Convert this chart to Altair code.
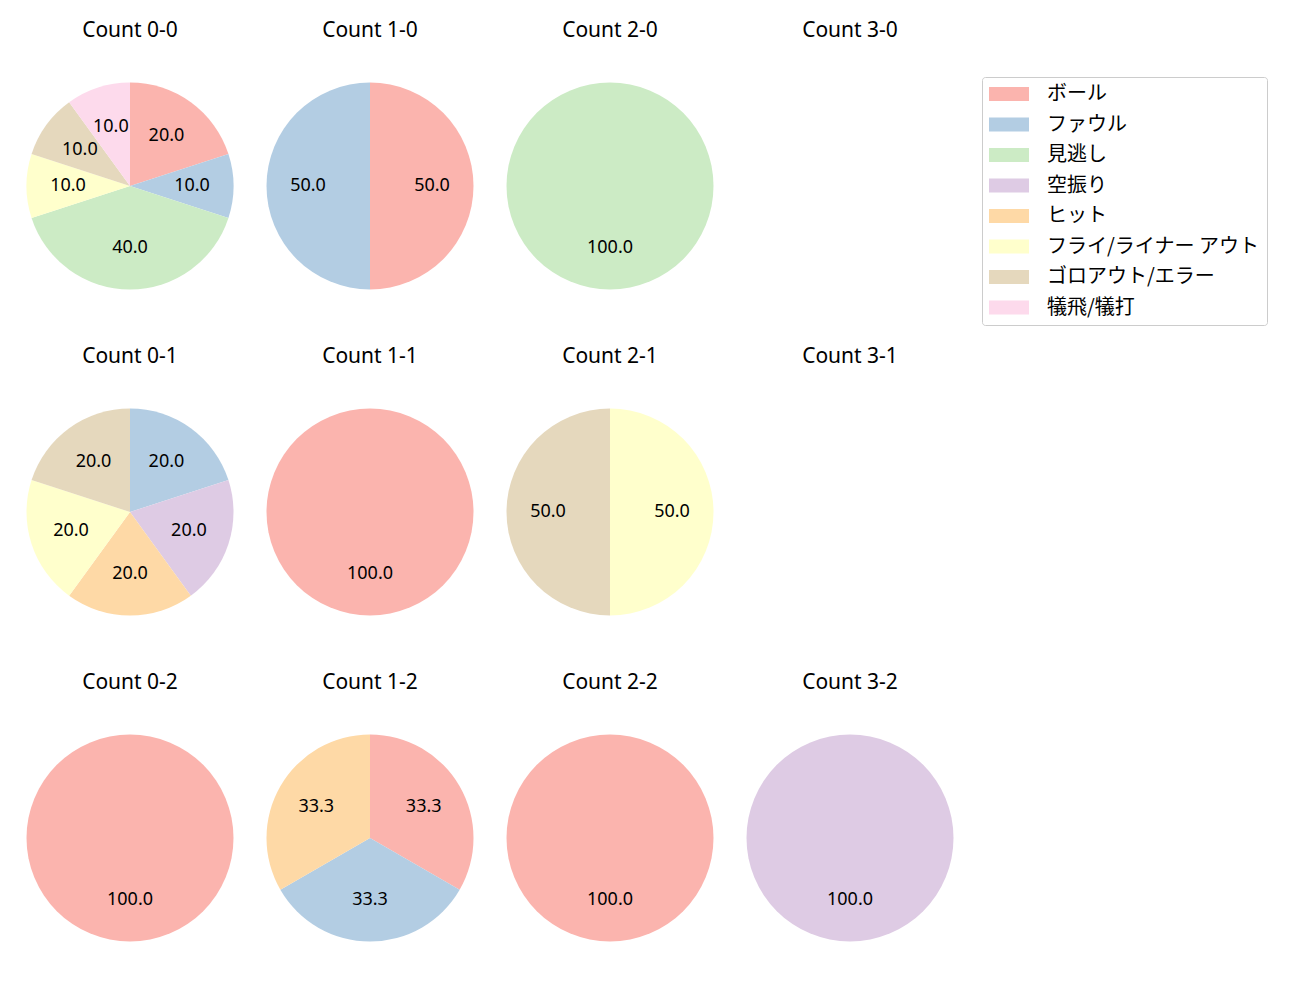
import altair as alt
import pandas as pd

FONT = "Noto Sans CJK JP"
LATIN = "Noto Sans"

categories = ["ボール", "ファウル", "見逃し", "空振り", "ヒット",
              "フライ/ライナー アウト", "ゴロアウト/エラー", "犠飛/犠打"]
colors = ["#fbb4ae", "#b3cde3", "#ccebc5", "#decbe4", "#fed9a6",
          "#ffffcc", "#e5d8bd", "#fddaec"]

panel_grid = [
    ["Count 0-0", "Count 1-0", "Count 2-0", "Count 3-0"],
    ["Count 0-1", "Count 1-1", "Count 2-1", "Count 3-1"],
    ["Count 0-2", "Count 1-2", "Count 2-2", "Count 3-2"],
]

# counts per category, in the order of `categories`
counts_0_0 = [2, 1, 4, 0, 0, 1, 1, 1]
counts_1_0 = [1, 1, 0, 0, 0, 0, 0, 0]
counts_2_0 = [0, 0, 1, 0, 0, 0, 0, 0]
counts_3_0 = [0, 0, 0, 0, 0, 0, 0, 0]
counts_0_1 = [0, 1, 0, 1, 1, 1, 1, 0]
counts_1_1 = [1, 0, 0, 0, 0, 0, 0, 0]
counts_2_1 = [0, 0, 0, 0, 0, 1, 1, 0]
counts_3_1 = [0, 0, 0, 0, 0, 0, 0, 0]
counts_0_2 = [1, 0, 0, 0, 0, 0, 0, 0]
counts_1_2 = [1, 1, 0, 0, 1, 0, 0, 0]
counts_2_2 = [1, 0, 0, 0, 0, 0, 0, 0]
counts_3_2 = [0, 0, 0, 1, 0, 0, 0, 0]

panel_counts = {
    "Count 0-0": counts_0_0, "Count 1-0": counts_1_0,
    "Count 2-0": counts_2_0, "Count 3-0": counts_3_0,
    "Count 0-1": counts_0_1, "Count 1-1": counts_1_1,
    "Count 2-1": counts_2_1, "Count 3-1": counts_3_1,
    "Count 0-2": counts_0_2, "Count 1-2": counts_1_2,
    "Count 2-2": counts_2_2, "Count 3-2": counts_3_2,
}

rows = []
for name, vals in panel_counts.items():
    for i, (cat, v) in enumerate(zip(categories, vals)):
        rows.append({"panel": name, "category": cat, "idx": i, "count": v})
df = pd.DataFrame(rows)

PW, PH = 240, 326
CX, CY = 120, 176
R = 103.5

legend = alt.Legend(
    title=None, orient="none", legendX=972, legendY=67,
    symbolType="M-1,-0.7L3,-0.7L3,0.7L-1,0.7Z", symbolSize=400,
    symbolStrokeWidth=0, labelOffset=38, labelFontSize=20, labelFont=FONT,
    labelLimit=400, rowPadding=10.5, padding=7, strokeColor="#cccccc",
    cornerRadius=3, fillColor="white", labelColor="black",
)

color = alt.Color("category:N", scale=alt.Scale(domain=categories, range=colors),
                  legend=legend)


def panel(name):
    base = alt.Chart(df).transform_filter(
        (alt.datum.panel == name) & (alt.datum["count"] > 0)
    )
    arc = base.mark_arc(radius=R).encode(
        theta=alt.Theta("count:Q", stack=True),
        color=color,
        order=alt.Order("idx:Q"),
        x=alt.value(CX), y=alt.value(CY),
    )
    txt = base.transform_joinaggregate(total="sum(count)").transform_calculate(
        pct="100 * datum.count / datum.total"
    ).mark_text(radius=62, fontSize=18, font=LATIN, baseline="middle",
                align="center", color="black").encode(
        theta=alt.Theta("count:Q", stack=True),
        order=alt.Order("idx:Q"),
        text=alt.Text("pct:Q", format=".1f"),
        x=alt.value(CX), y=alt.value(CY),
    )
    ttl = alt.Chart(pd.DataFrame({"t": [name]})).mark_text(
        fontSize=21, font=LATIN, baseline="middle", align="center", color="black"
    ).encode(text="t:N", x=alt.value(CX), y=alt.value(20.5))
    return alt.layer(arc, txt, ttl).properties(width=PW, height=PH)


chart = alt.vconcat(
    *[alt.hconcat(*[panel(n) for n in row], spacing=0) for row in panel_grid],
    spacing=0,
).properties(
    padding={"left": 2, "top": 2, "right": 2, "bottom": 2}
).configure_view(stroke=None)

chart.save("out.html", embed_options={"renderer": "svg", "actions": False})
